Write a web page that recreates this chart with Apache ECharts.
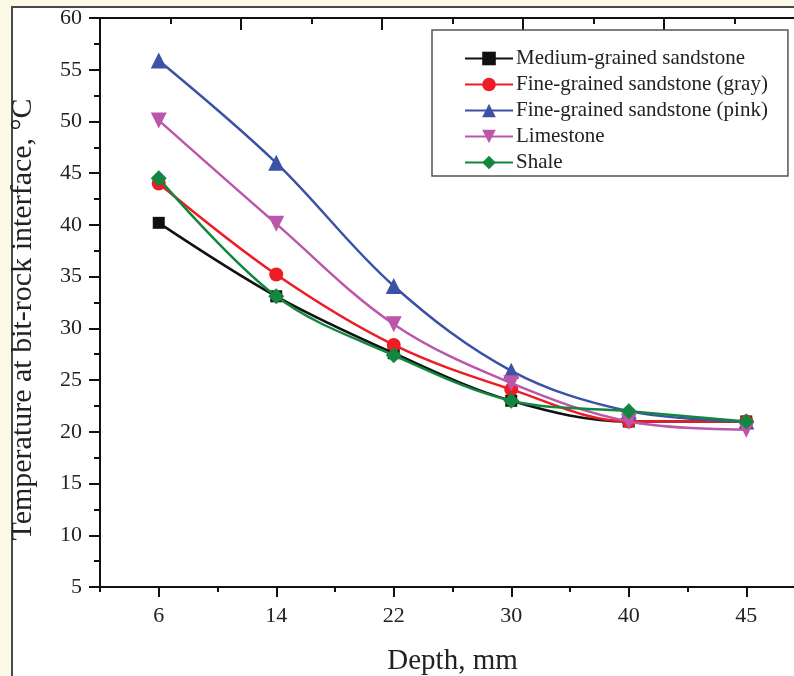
<!DOCTYPE html>
<html>
<head>
<meta charset="utf-8">
<script src="https://cdn.jsdelivr.net/npm/echarts@6/dist/echarts.min.js"></script>
<style>
  html, body { margin: 0; padding: 0; background: #fdf9e7; }
  #chart { width: 794px; height: 676px; }
</style>
</head>
<body>
<div id="chart"></div>
<script>
var depths = ['6', '14', '22', '30', '40', '45'];
var seriesNames = ['Medium-grained sandstone', 'Fine-grained sandstone (gray)',
  'Fine-grained sandstone (pink)', 'Limestone', 'Shale'];
var mediumSandstone = [40.2, 33.1, 27.6, 23.0, 21.0, 21.0];
var fineGray = [44.0, 35.2, 28.4, 24.1, 21.0, 21.0];
var finePink = [55.9, 46.0, 34.1, 25.9, 22.0, 21.0];
var limestone = [50.1, 40.1, 30.4, 24.7, 21.0, 20.2];
var shale = [44.5, 33.1, 27.4, 23.0, 22.0, 21.0];
var yTicks = { min: 5, max: 60, step: 5 };

var fontFam = '"Liberation Serif", "DejaVu Serif", serif';
var colors = ['#111111', '#ee1c25', '#3b52a5', '#bb57aa', '#13863f'];
var symbols = ['rect', 'circle', 'triangle', 'triangle', 'diamond'];
var symbolSizes = [12, 14, 16, 16, 16];
var rotates = [0, 0, 0, 180, 0];
var allData = [mediumSandstone, fineGray, finePink, limestone, shale];

var chart = echarts.init(document.getElementById('chart'));

var series = [];
for (var i = 0; i < allData.length; i++) {
  series.push({
    name: seriesNames[i],
    type: 'line',
    smooth: 0.35,
    xAxisIndex: 0,
    yAxisIndex: 0,
    data: allData[i],
    symbol: symbols[i],
    symbolSize: symbolSizes[i],
    symbolRotate: rotates[i],
    lineStyle: { color: colors[i], width: 2.5 },
    itemStyle: { color: colors[i] },
    z: 3 + i
  });
}

var axisLine = { show: true, lineStyle: { color: '#111', width: 2 } };

var option = {
  animation: false,
  backgroundColor: '#fdf9e7',
  graphic: [{
    type: 'rect',
    z: -10,
    shape: { x: 12, y: 7, width: 800, height: 700 },
    style: { fill: '#ffffff', stroke: '#4a4a4a', lineWidth: 2 }
  }],
  grid: { left: 100, top: 18, right: -11, bottom: 89, outerBoundsMode: 'none', containLabel: false },
  legend: {
    orient: 'vertical',
    left: 432,
    top: 30,
    padding: [18, 20, 3, 32],
    itemGap: 5,
    itemWidth: 48,
    itemHeight: 17,
    backgroundColor: '#ffffff',
    borderColor: '#555',
    borderWidth: 1.5,
    borderRadius: 0,
    textStyle: { fontFamily: fontFam, fontSize: 21, color: '#222', padding: [0, 0, 0, -2] },
    data: seriesNames
  },
  xAxis: [{
    type: 'category',
    position: 'bottom',
    data: depths,
    boundaryGap: true,
    axisLine: axisLine,
    axisTick: { show: true, alignWithLabel: true, length: 10, lineStyle: { color: '#111', width: 2 } },
    axisLabel: { fontFamily: fontFam, fontSize: 22, color: '#222', margin: 18 },
    splitLine: { show: false },
    name: 'Depth, mm',
    nameLocation: 'middle',
    nameGap: 60,
    nameTextStyle: { fontFamily: fontFam, fontSize: 29, color: '#222' }
  }, {
    type: 'category',
    position: 'bottom',
    data: depths,
    boundaryGap: true,
    axisLine: axisLine,
    axisTick: { show: true, length: 5, lineStyle: { color: '#111', width: 2 } },
    axisLabel: { show: false },
    splitLine: { show: false }
  }, {
    type: 'value',
    position: 'top',
    min: 0,
    max: 5,
    interval: 1,
    axisLine: axisLine,
    axisTick: { show: true, inside: true, length: 12, lineStyle: { color: '#111', width: 2 } },
    minorTick: { show: true, splitNumber: 2, length: 6, lineStyle: { color: '#111', width: 2 } },
    axisLabel: { show: false },
    splitLine: { show: false }
  }],
  yAxis: [{
    type: 'value',
    min: yTicks.min,
    max: yTicks.max,
    interval: yTicks.step,
    axisLine: axisLine,
    axisTick: { show: true, length: 11, lineStyle: { color: '#111', width: 2 } },
    minorTick: { show: true, splitNumber: 2, length: 6, lineStyle: { color: '#111', width: 2 } },
    axisLabel: { fontFamily: fontFam, fontSize: 22, color: '#222', margin: 18 },
    splitLine: { show: false },
    name: 'Temperature at bit-rock interface, \u00B0C',
    nameLocation: 'middle',
    nameGap: 62,
    nameTextStyle: { fontFamily: fontFam, fontSize: 30, color: '#222', padding: [0, 34, 0, 0] }
  }],
  series: series
};
chart.setOption(option);
</script>
</body>
</html>
